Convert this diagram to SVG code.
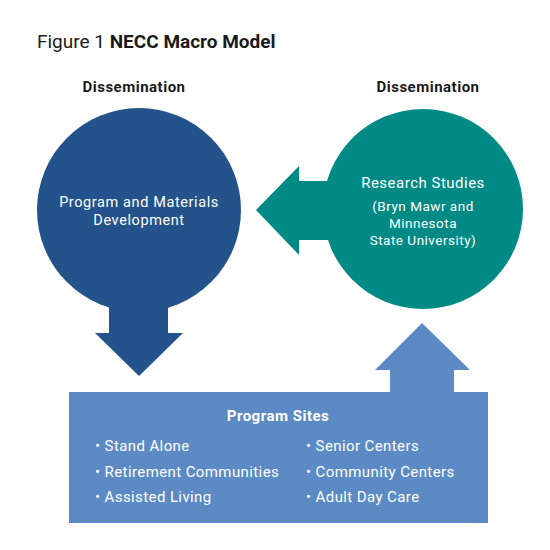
<svg xmlns="http://www.w3.org/2000/svg" width="550" height="550" viewBox="0 0 550 550">
<style>
text{font-family:"Roboto","Liberation Sans",sans-serif;}
.w{fill:#ffffff;}
.lbl{font-size:15px;font-weight:bold;fill:#1a1a1a;text-anchor:middle;letter-spacing:0.5px;}
.c{text-anchor:middle;}
.item{font-size:15px;fill:#ffffff;letter-spacing:0.4px;}
</style>
<rect width="550" height="550" fill="#ffffff"/>
<text x="37" y="48" font-size="19" fill="#1a1a1a">Figure 1 <tspan font-weight="bold">NECC Macro Model</tspan></text>
<text class="lbl" x="134" y="92">Dissemination</text>
<text class="lbl" x="428" y="92">Dissemination</text>
<g id="connectors">
<polygon id="arrow-down" fill="#23538a" points="109,300 168,300 168,333 183,333 139,376 95,333 109,333"/>
<polygon id="arrow-left" fill="#008a86" points="340,181 299,181 299,166 256,210 299,255 299,240 340,240"/>
<polygon id="arrow-up" fill="#5b8ac4" points="390,400 390,370 375,370 422,323 470,370 454,370 454,400"/>
</g>
<g id="node-development">
<circle cx="139" cy="210" r="102" fill="#23538a"/>
<text class="w c" x="139" y="207" font-size="14.5" letter-spacing="0.6">Program and Materials</text>
<text class="w c" x="139" y="224.5" font-size="14.5" letter-spacing="0.6">Development</text>
</g>
<g id="node-research">
<circle cx="423" cy="209" r="100" fill="#008a86"/>
<text class="w c" x="423" y="188" font-size="15" letter-spacing="0.5">Research Studies</text>
<text class="w c" x="423" y="211" font-size="13.5" letter-spacing="0.5">(Bryn Mawr and</text>
<text class="w c" x="423" y="228" font-size="13.5" letter-spacing="0.5">Minnesota</text>
<text class="w c" x="423" y="245" font-size="13.5" letter-spacing="0.5">State University)</text>
</g>
<g id="node-sites">
<rect x="69" y="392" width="419" height="131" fill="#5b8ac4"/>
<text class="w c" x="278" y="421" font-size="15" font-weight="bold" letter-spacing="0.5">Program Sites</text>
<text class="item" x="95" y="451">• Stand Alone</text>
<text class="item" x="95" y="477">• Retirement Communities</text>
<text class="item" x="95" y="502">• Assisted Living</text>
<text class="item" x="306" y="451">• Senior Centers</text>
<text class="item" x="306" y="477">• Community Centers</text>
<text class="item" x="306" y="502">• Adult Day Care</text>
</g>
</svg>
